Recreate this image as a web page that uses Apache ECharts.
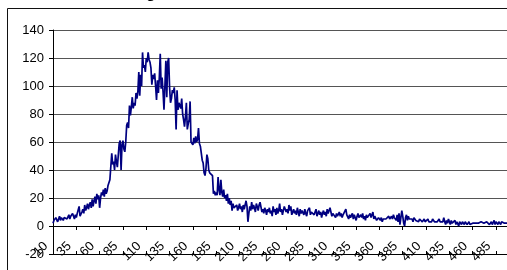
<!DOCTYPE html>
<html>
<head>
<meta charset="utf-8">
<title>Line Graph</title>
<style>
  html, body { margin: 0; padding: 0; background: #fff; }
  #container { width: 507px; height: 270px; }
</style>
</head>
<body>
<div id="container"></div>
<script src="https://cdn.jsdelivr.net/npm/echarts@6/dist/echarts.min.js"></script>
<script>
// first category label and step between shown labels
var firstCategory = 10;
var labelStep = 25;

// y axis ticks
var yTicks = [-20, 0, 20, 40, 60, 80, 100, 120, 140];

// values, one per category, starting at 10
var counts = [
  2, 4, 3, 6, 5, 3, 5, 7, 4, 6,
  5, 4, 6, 5, 7, 5, 6, 8, 5, 7,
  6, 9, 7, 5, 8, 6, 9, 8, 14, 7,
  6, 10, 12, 9, 15, 11, 13, 16, 12, 15,
  17, 13, 19, 14, 18, 21, 16, 23, 19, 22,
  13, 20, 24, 22, 26, 21, 27, 23, 25, 29,
  30, 33, 34, 52, 44, 46, 40, 51, 46, 42,
  41, 59, 61, 40, 58, 61, 55, 53, 60, 72,
  74, 70, 86, 79, 85, 92, 84, 88, 86, 95,
  91, 96, 110, 93, 108, 100, 124, 113, 115, 110,
  120, 117, 124, 119, 117, 113, 101, 108, 105, 109,
  100, 90, 104, 95, 106, 123, 98, 106, 96, 83,
  100, 118, 92, 117, 120, 99, 88, 91, 97, 95,
  99, 90, 69, 97, 83, 88, 86, 84, 91, 80,
  76, 71, 78, 88, 69, 73, 76, 89, 60, 61,
  58, 63, 59, 64, 60, 62, 70, 59, 57, 56,
  47, 45, 38, 36, 41, 51, 48, 40, 38, 37,
  39, 36, 23, 25, 22, 24, 22, 35, 26, 22,
  33, 24, 21, 26, 20, 22, 18, 23, 16, 20,
  15, 18, 11, 16, 13, 14, 12, 15, 11, 13,
  16, 12, 14, 10, 15, 12, 13, 18, 14, 3,
  9, 14, 11, 17, 12, 15, 13, 10, 16, 14,
  11, 15, 17, 18, 10, 12, 9, 13, 11, 8,
  12, 10, 13, 9, 11, 7, 14, 10, 12, 8,
  13, 9, 11, 16, 10, 12, 8, 11, 14, 15,
  10, 12, 9, 15, 11, 14, 8, 10, 12, 9,
  11, 8, 13, 10, 7, 12, 9, 11, 10, 8,
  12, 9, 7, 11, 10, 13, 8, 10, 9, 11,
  8, 10, 12, 7, 9, 11, 8, 10, 6, 9,
  11, 8, 10, 7, 12, 9, 8, 13, 10, 7,
  9, 8, 10, 6, 9, 7, 8, 10, 7, 9,
  6, 8, 7, 9, 12, 8, 7, 5, 8, 6,
  7, 9, 5, 8, 6, 4, 7, 9, 6, 5,
  8, 6, 9, 5, 7, 4, 8, 6, 5, 7,
  9, 6, 8, 10, 5, 7, 6, 4, 5, 6,
  5, 4, 6, 3, 5, 4, 6, 5, 4, 6,
  7, 5, 6, 7, 5, 8, 6, 7, 4, 8,
  3, 9, 1, 6, 11, 7, 2, 0, 6, 8,
  4, 7, 5, 6, 4, 5, 3, 6, 5, 4,
  5, 4, 3, 5, 4, 6, 3, 4, 5, 3,
  4, 2, 5, 3, 4, 2, 3, 5, 4, 3,
  2, 4, 3, 2, 5, 3, 4, 2, 3, 6,
  3, 1, 4, 2, 5, 3, 1, 4, 2, 3,
  2, 4, 1, 3, 2, 0, 3, 2, 1, 3,
  2, 1, 3, 2, 1, 2, 3, 1, 2, 2,
  2, 2, 2, 2, 2, 2, 2, 2, 2, 3,
  2, 2, 2, 2, 1, 3, 2, 4, 1, 2,
  3, 1, 2, 4, 1, 3, 2, 1, 3, 2,
  1, 3, 2, 4, 2, 1, 3, 2, 2, 3, 2
];

var categories = [];
for (var i = 0; i < counts.length; i++) {
    categories.push(String(firstCategory + i));
}

var dom = document.getElementById('container');
var myChart = echarts.init(dom, null, {renderer: 'canvas'});

var font = 'Liberation Sans, Arial, sans-serif';

var option = {
    animation: false,
    backgroundColor: '#fff',
    grid: {left: 53, top: 30, right: -3, bottom: 16, containLabel: false, outerBoundsMode: 'none'},
    xAxis: [{
        type: 'category',
        data: categories,
        boundaryGap: false,
        axisLine: {onZero: true, lineStyle: {color: '#000', width: 1}},
        axisTick: {show: true, interval: labelStep - 1, length: 4, lineStyle: {color: '#000'}},
        axisLabel: {
            interval: labelStep - 1,
            rotate: 45,
            margin: -17,
            padding: [0, 10, 0, 0],
            color: '#000',
            fontFamily: font,
            fontSize: 13
        },
        splitLine: {show: false}
    }, {
        // second copy of the axis only to draw the inner half of the ticks
        type: 'category',
        data: categories,
        position: 'bottom',
        boundaryGap: false,
        axisLine: {onZero: true, lineStyle: {color: '#000', width: 1}},
        axisTick: {show: true, inside: true, interval: labelStep - 1, length: 3, lineStyle: {color: '#000'}},
        axisLabel: {show: false},
        splitLine: {show: false}
    }],
    yAxis: {
        type: 'value',
        min: yTicks[0],
        max: yTicks[yTicks.length - 1],
        interval: yTicks[1] - yTicks[0],
        axisLine: {show: true, lineStyle: {color: '#000', width: 1}},
        axisTick: {show: true, length: 4, lineStyle: {color: '#000'}},
        axisLabel: {margin: 9, color: '#000', fontFamily: font, fontSize: 13},
        splitLine: {show: true, lineStyle: {color: '#555', width: 1}}
    },
    graphic: [{
        type: 'rect',
        shape: {x: 7.5, y: 8.5, width: 700, height: 400},
        style: {fill: 'none', stroke: '#111', lineWidth: 1},
        silent: true,
        z: -1
    }, {
        type: 'text',
        left: 106,
        top: -14,
        style: {text: 'Histogram', fill: '#000', font: 'bold 16px Liberation Sans, Arial, sans-serif'},
        silent: true
    }],
    series: [{
        type: 'line',
        xAxisIndex: 0,
        data: counts,
        showSymbol: false,
        symbol: 'none',
        lineStyle: {color: '#000080', width: 1.7},
        itemStyle: {color: '#000080'}
    }]
};

myChart.setOption(option);
</script>
</body>
</html>
